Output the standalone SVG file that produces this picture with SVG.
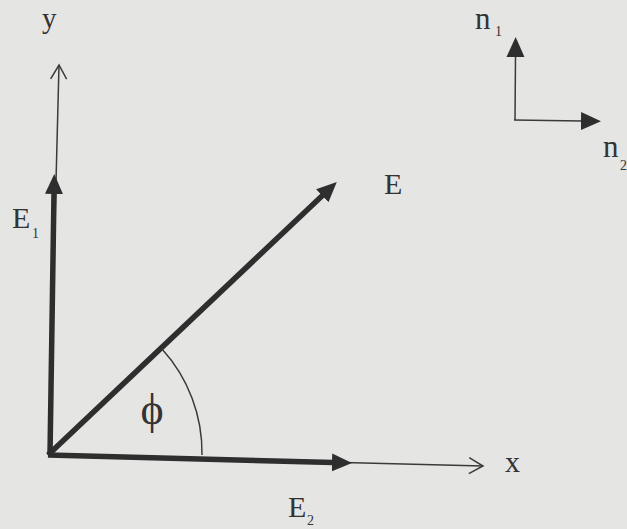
<svg xmlns="http://www.w3.org/2000/svg" width="627" height="529" viewBox="0 0 627 529">
<style>
.thin{stroke:#3a3a3a;stroke-width:1.5;fill:none}
.thick{stroke:#2e2e2e;stroke-width:5.5;fill:none}
.lbl{font-family:"Liberation Serif","Times New Roman",serif;fill:#333;font-size:30px}
.nl{font-size:31px}
.sub{font-family:"Liberation Serif","Times New Roman",serif;fill:#333;font-size:14px}
</style>
<defs>
<marker id="solid" viewBox="0 -10 22 20" refX="1" refY="0" markerWidth="22" markerHeight="20" markerUnits="userSpaceOnUse" orient="auto">
<path d="M0,-9 L20,0 L0,9 z" fill="#2e2e2e"/>
</marker>
<marker id="open" viewBox="-16 -10 18 20" refX="0" refY="0" markerWidth="18" markerHeight="20" markerUnits="userSpaceOnUse" orient="auto">
<path d="M-14,-8 L0,0 L-14,8" fill="none" stroke="#3a3a3a" stroke-width="1.5"/>
</marker>
</defs>
<rect width="627" height="529" fill="#e5e5e3"/>
<g id="connectors">
<path id="y-axis" class="thin" d="M49,455 L59,65" marker-end="url(#open)"/>
<path id="x-axis" class="thin" d="M48,455 L483,466" marker-end="url(#open)"/>
<path id="E1-vec" class="thick" d="M50,455 L54,193" marker-end="url(#solid)"/>
<path id="E-vec" class="thick" d="M48,455 L323,195" marker-end="url(#solid)"/>
<path id="E2-vec" class="thick" d="M48,455 L333,462.5" marker-end="url(#solid)"/>
<path id="phi-arc" class="thin" d="M202,455 A154,154 0 0 0 162,349"/>
<path id="n1-vec" class="thin" d="M515,120 L515.5,56" marker-end="url(#solid)"/>
<path id="n2-vec" class="thin" d="M514,120 L582,121" marker-end="url(#solid)"/>
</g>
<g id="label-y"><text class="lbl" x="42" y="28" style="font-size:29px">y</text></g>
<g id="label-x"><text class="lbl" x="505" y="472">x</text></g>
<g id="label-E"><text class="lbl" x="384" y="194">E</text></g>
<g id="label-E1"><text class="lbl" x="12" y="228">E</text><text class="sub" x="32" y="238">1</text></g>
<g id="label-E2"><text class="lbl" x="288" y="517">E</text><text class="sub" x="307" y="525">2</text></g>
<g id="label-phi"><text class="lbl" x="152" y="424" text-anchor="middle" style="font-size:44px">ϕ</text></g>
<g id="label-n1"><text class="lbl nl" x="475" y="29">n</text><text class="sub" x="495" y="36">1</text></g>
<g id="label-n2"><text class="lbl nl" x="603" y="157">n</text><text class="sub" x="620" y="170">2</text></g>
</svg>
